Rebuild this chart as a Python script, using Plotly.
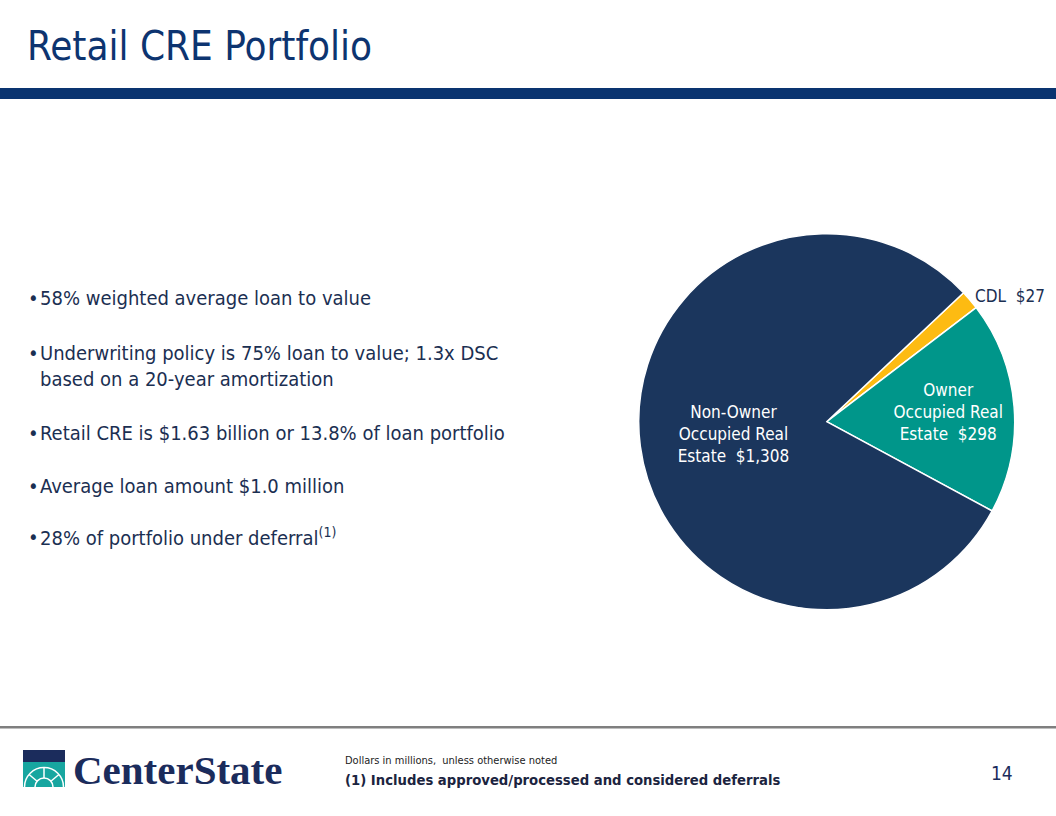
import plotly.graph_objects as go

# ---- data ----
segments = ["CDL", "Owner<br>Occupied Real<br>Estate", "Non-Owner<br>Occupied Real<br>Estate"]
values = [27, 298, 1308]
colors = ["#FDBB12", "#00968A", "#1B365D"]
text_positions = ["outside", "inside", "inside"]

bullets = [
    "58% weighted average loan to value",
    "Underwriting policy is 75% loan to value; 1.3x DSC<br>based on a 20-year amortization",
    "Retail CRE is $1.63 billion or 13.8% of loan portfolio",
    "Average loan amount $1.0 million",
    "28% of portfolio under deferral<sup>(1)</sup>",
]
bullet_y = [298, 353, 433, 486, 537]

title = "Retail CRE Portfolio"
footnote_small = "Dollars in millions,  unless otherwise noted"
footnote = "(1) Includes approved/processed and considered deferrals"
page_number = "14"
logo_text = "CenterState"

W, H = 1056, 816
FONT = "DejaVu Sans Condensed, Tahoma, DejaVu Sans, sans-serif"
NAVY_TXT = "#1B2F52"
LOGO_NAVY = "#1B2C5C"
LOGO_TEAL = "#17A6A0"


def px(x):
    return x / W


def py(y):
    return 1 - y / H


labels_txt = [f"{s}  ${v:,}" for s, v in zip(segments, values)]

cx, cy, r = 826.7, 421.7, 188
fig = go.Figure(
    go.Pie(
        labels=segments,
        values=values,
        text=labels_txt,
        textinfo="text",
        textposition=text_positions,
        insidetextorientation="horizontal",
        sort=False,
        direction="clockwise",
        rotation=46.7,
        marker=dict(colors=colors, line=dict(color="white", width=1.5)),
        insidetextfont=dict(family=FONT, size=17, color="white"),
        outsidetextfont=dict(family=FONT, size=17, color=NAVY_TXT),
        domain=dict(x=[px(cx - r), px(cx + r)], y=[py(cy + r), py(cy - r)]),
        showlegend=False,
        hoverinfo="label+value",
    )
)


def rect(x0, y0, x1, y1, color):
    return dict(type="rect", xref="paper", yref="paper", x0=px(x0), x1=px(x1), y0=py(y1), y1=py(y0),
                fillcolor=color, line=dict(width=0))


def circ(xc, yc, rr, fill, lw=1.5):
    return dict(type="circle", xref="paper", yref="paper", x0=px(xc - rr), x1=px(xc + rr),
                y0=py(yc + rr), y1=py(yc - rr), fillcolor=fill, line=dict(color="white", width=lw))


def seg(x0, y0, x1, y1):
    return dict(type="line", xref="paper", yref="paper", x0=px(x0), x1=px(x1), y0=py(y0), y1=py(y1),
                line=dict(color="white", width=1.5))


lx, ly = 44, 787  # dome centre of logo icon
shapes = [
    rect(0, 88, W, 99, "#0A3470"),       # header band
    rect(0, 726, W, 728.5, "#7F7F7F"),   # footer rule
    rect(23, 750, 65, 787, LOGO_TEAL),
    rect(23, 750, 65, 762, LOGO_NAVY),
    circ(lx, ly, 19.5, "rgba(0,0,0,0)"),
    circ(lx, ly, 9, LOGO_TEAL),
    seg(lx, ly - 9, lx, ly - 19.5),
    seg(lx + 6.9, ly - 5.8, lx + 14.9, ly - 12.5),
    seg(lx - 6.9, ly - 5.8, lx - 14.9, ly - 12.5),
    rect(20, 787, 68, 800, "white"),
]

annotations = [
    dict(text=title, x=px(25), y=py(46), xanchor="left", yanchor="middle",
         font=dict(family=FONT, size=40, color="#0D3470")),
    dict(text=f"<b>{logo_text}</b>", x=px(71), y=py(770), xanchor="left", yanchor="middle",
         font=dict(family="Liberation Serif, DejaVu Serif, serif", size=41, color=LOGO_NAVY)),
    dict(text=footnote_small, x=px(343), y=py(760), xanchor="left", yanchor="middle",
         font=dict(family="Liberation Sans Narrow, DejaVu Sans Condensed, sans-serif", size=11, color="#222222")),
    dict(text=f"<b>{footnote}</b>", x=px(343), y=py(779), xanchor="left", yanchor="middle",
         font=dict(family=FONT, size=14.7, color="#1B2440")),
    dict(text=page_number, x=px(1015), y=py(773), xanchor="right", yanchor="middle",
         font=dict(family="Liberation Sans Narrow, DejaVu Sans Condensed, sans-serif", size=19, color=LOGO_NAVY)),
]

for txt, yy in zip(bullets, bullet_y):
    annotations.append(dict(text="•", x=px(26), y=py(yy), xanchor="left", yanchor="middle",
                            font=dict(family=FONT, size=20, color=NAVY_TXT)))
    nlines = txt.count("<br>") + 1
    annotations.append(dict(text=txt, x=px(38), y=py(yy), xanchor="left",
                            yanchor="middle" if nlines == 1 else "top", yshift=14 if nlines > 1 else 0,
                            align="left",
                            font=dict(family=FONT, size=20, color=NAVY_TXT)))

for a in annotations:
    a.update(xref="paper", yref="paper", showarrow=False)

fig.update_layout(
    width=W, height=H,
    margin=dict(l=0, r=0, t=0, b=0),
    paper_bgcolor="white", plot_bgcolor="white",
    shapes=shapes, annotations=annotations,
)

fig.write_html("out.html", config={"displayModeBar": False},
               post_script="document.body.style.margin='0';")
